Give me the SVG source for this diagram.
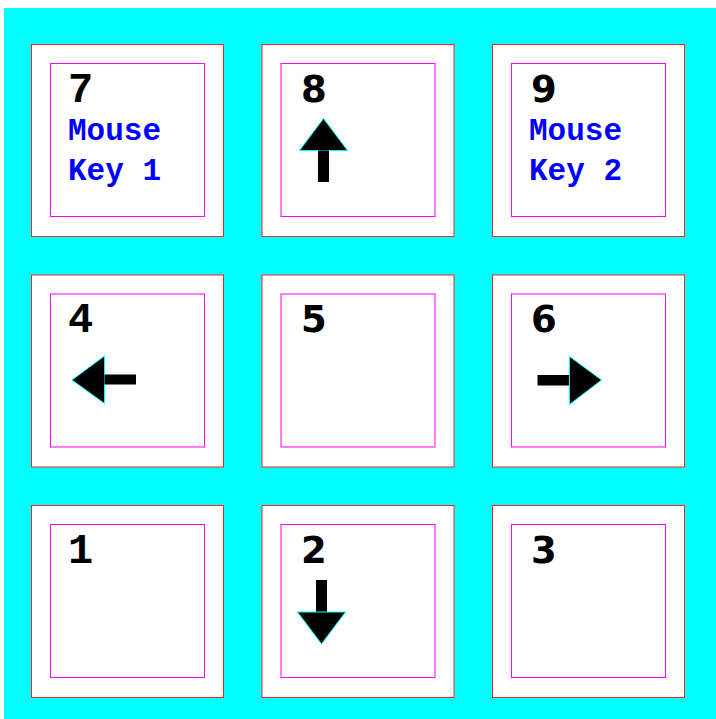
<svg xmlns="http://www.w3.org/2000/svg" width="716" height="719" viewBox="0 0 716 719">
<style>
.outer{fill:#fff;stroke:#ff2020;stroke-width:1}
.inner{fill:#fff;stroke:#ff00ff;stroke-width:1}
.mono{font-family:"Courier New","Nimbus Mono PS","FreeMono","Liberation Mono",monospace;font-weight:bold;font-size:42px;fill:#000}
.sans{font-family:"DejaVu Sans",sans-serif;font-weight:bold;font-size:37px;fill:#000}
.lbl{font-family:"Courier New","Nimbus Mono PS","FreeMono","Liberation Mono",monospace;font-weight:bold;font-size:31px;fill:#0000ff}
.head{fill:#000;stroke:#00ffff;stroke-width:1}
.shaft{fill:#000}
</style>
<rect x="4" y="8" width="712" height="711" fill="#00ffff"/>
<g id="key7"><rect class="outer" x="31.5" y="44.5" width="192" height="192"/><rect class="inner" x="50.5" y="63.5" width="154" height="153"/><text class="mono" x="68" y="101.5">7</text><text class="lbl" x="68" y="140">Mouse</text><text class="lbl" x="68" y="180">Key 1</text></g>
<g id="key8"><rect class="outer" x="262" y="44.5" width="192" height="192"/><rect class="inner" x="281" y="63.5" width="154" height="153"/><text class="sans" x="301" y="101.5">8</text><polygon class="head" points="323.5,118.5 299.5,150.5 347.5,150.5"/><rect class="shaft" x="318" y="150.5" width="11" height="31.5"/></g>
<g id="key9"><rect class="outer" x="492.5" y="44.5" width="192" height="192"/><rect class="inner" x="511.5" y="63.5" width="154" height="153"/><text class="sans" x="531" y="101.5">9</text><text class="lbl" x="529" y="140">Mouse</text><text class="lbl" x="529" y="180">Key 2</text></g>
<g id="key4"><rect class="outer" x="31.5" y="275" width="192" height="192"/><rect class="inner" x="50.5" y="294" width="154" height="153"/><text class="mono" x="68" y="332">4</text><polygon class="head" points="72,380 104.5,356 104.5,403.5"/><rect class="shaft" x="104.5" y="374.5" width="31.5" height="10"/></g>
<g id="key5"><rect class="outer" x="262" y="275" width="192" height="192"/><rect class="inner" x="281" y="294" width="154" height="153"/><text class="sans" x="301" y="332">5</text></g>
<g id="key6"><rect class="outer" x="492.5" y="275" width="192" height="192"/><rect class="inner" x="511.5" y="294" width="154" height="153"/><text class="sans" x="531" y="332">6</text><rect class="shaft" x="537.5" y="375" width="32" height="10.5"/><polygon class="head" points="569.5,356.5 569.5,404.5 601.5,380"/></g>
<g id="key1"><rect class="outer" x="31.5" y="505.5" width="192" height="192"/><rect class="inner" x="50.5" y="524.5" width="154" height="153"/><text class="mono" x="68" y="562.5">1</text></g>
<g id="key2"><rect class="outer" x="262" y="505.5" width="192" height="192"/><rect class="inner" x="281" y="524.5" width="154" height="153"/><text class="sans" x="301" y="562.5">2</text><rect class="shaft" x="316" y="580" width="11" height="32"/><polygon class="head" points="297.5,612 345.5,612 321.5,644"/></g>
<g id="key3"><rect class="outer" x="492.5" y="505.5" width="192" height="192"/><rect class="inner" x="511.5" y="524.5" width="154" height="153"/><text class="sans" x="531" y="562.5">3</text></g>
<g id="connectors"></g>
</svg>
